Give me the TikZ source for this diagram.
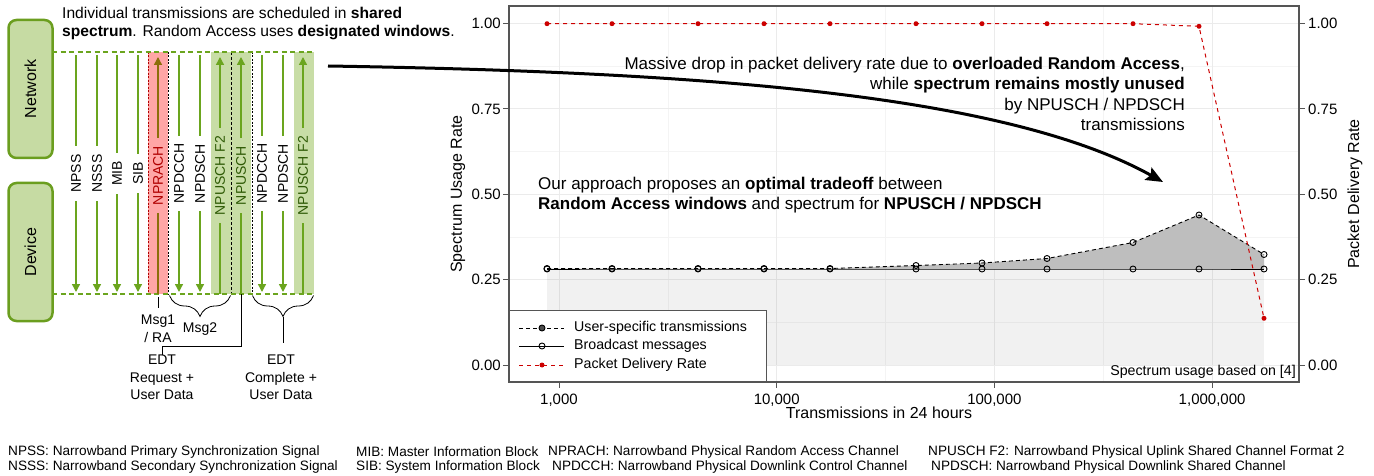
\documentclass[tikz,border=0pt]{standalone}
\usepackage{fontspec}
\setmainfont{Liberation Sans}
\usetikzlibrary{arrows.meta,decorations.pathreplacing,calc}
\newcommand{\fsz}[2]{\fontsize{#1pt}{#2pt}\selectfont}
\definecolor{gline}{HTML}{6BA51E}
\definecolor{boxfill}{HTML}{C6DBA3}
\definecolor{boxdraw}{HTML}{6B9E1F}
\definecolor{bandgreen}{HTML}{C8DDA6}
\definecolor{bandred}{HTML}{FFA6A6}
\definecolor{redtext}{HTML}{B00000}
\definecolor{dkgreen}{HTML}{2E5A05}
\definecolor{olivearr}{HTML}{8C6E0A}
\definecolor{plotred}{HTML}{CC0000}
\definecolor{majgrid}{HTML}{EBEBEB}
\definecolor{mingrid}{HTML}{F4F4F4}
\definecolor{areadark}{HTML}{BEBEBE}
\definecolor{panelframe}{HTML}{555555}
\tikzset{
  sidebox/.style={rotate=90, draw=boxdraw, fill=boxfill, line width=2.5pt, rounded corners=8pt,
    minimum width=138pt, minimum height=44pt, inner sep=0pt, font=\fsz{16}{19}},
  collab/.style={rotate=90, font=\fsz{14}{16}, inner xsep=8pt, inner ysep=1pt},
  garr/.style={draw=gline, line width=1.4pt, -{Triangle[length=8pt,width=8pt]}},
  gdash/.style={draw=gline, line width=1.5pt, dash pattern=on 5pt off 3.5pt},
  sep/.style={draw=black, line width=0.7pt, dash pattern=on 2pt off 1.5pt},
  note/.style={font=\fsz{14}{17.5}, align=center, inner sep=0pt},
  brc/.style={draw=black, line width=0.8pt, decorate, decoration={brace, mirror, amplitude=21pt}},
  majorgrid/.style={draw=majgrid, line width=1pt},
  minorgrid/.style={draw=mingrid, line width=0.6pt},
  ticklab/.style={font=\fsz{15}{18}, inner sep=0pt},
  opc/.style={circle, draw=black, line width=0.9pt, minimum size=6pt, inner sep=0pt},
  rdot/.style={circle, fill=plotred, minimum size=5pt, inner sep=0pt},
  legtxt/.style={font=\fsz{14.2}{17}, anchor=west, inner sep=0pt},
  udash/.style={draw=black, line width=0.9pt, dash pattern=on 4pt off 3pt},
  rdash/.style={draw=plotred, line width=1pt, dash pattern=on 4pt off 4pt},
  foot/.style={font=\fsz{13.6}{16}, anchor=west, inner sep=0pt},
}
\begin{document}
\begin{tikzpicture}[x=1pt,y=-1pt]
\useasboundingbox (0,0) rectangle (1374,476);
\fill[white] (0,0) rectangle (1374,476);

% ---------------- left diagram ----------------
\node[sidebox] (net) at (30.5,89) {Network};
\node[sidebox] (dev) at (30.5,252) {Device};

\node[anchor=west, align=left, inner sep=0pt, font=\fsz{15.6}{18}] (toptxt) at (62,24)
  {Individual transmissions are scheduled in \textbf{shared}\\\textbf{spectrum}. Random Access uses \textbf{designated windows}.};

% bands
\fill[bandred] (148,52) rectangle (168,294);
\fill[bandgreen] (211,52) rectangle (251,294);
\fill[bandgreen] (294,52) rectangle (314,294);

% separators
\draw[sep, draw=redtext] (148,52) -- (148,294);
\draw[sep] (168,52) -- (168,294);
\draw[sep, dash pattern=on 3pt off 2pt] (231,52) -- (231,294);
\draw[sep] (252,52) -- (252,294);

% network / device lines
\coordinate (ntop0) at (52,52); \coordinate (ntop1) at (314,52);
\coordinate (dbot0) at (52,294); \coordinate (dbot1) at (314,294);
\draw[gdash] (ntop0) -- (ntop1);
\draw[gdash] (dbot0) -- (dbot1);

% downlink arrows
\foreach \x/\lab/\nm in {76/NPSS/a1,97/NSSS/a2,117/MIB/a3,138/SIB/a4,179/NPDCCH/a6,200/NPDSCH/a7,262/NPDCCH/a10,283/NPDSCH/a11}{
  \draw[garr] (\x,55) -- node[collab, fill=white, name=\nm] {\lab} (\x,292);
}
% uplink arrows
\draw[garr, draw=olivearr] (158,294) -- node[collab, fill=bandred, text=redtext, name=a5] {NPRACH} (158,57);
\foreach \x/\lab/\nm in {220/NPUSCH F2/a8,241/NPUSCH/a9,303/NPUSCH F2/a12}{
  \draw[garr] (\x,294) -- node[collab, fill=bandgreen, text=dkgreen, name=\nm] {\lab} (\x,57);
}

% braces and notes
\coordinate (m1a) at (158,297); \coordinate (m1b) at (158,308);
\draw[line width=0.8pt] (m1a) -- (m1b);
\node[note] (msg1) at (158,329) {Msg1\\/ RA};
\draw[brc] (169.5,295.5) -- (230.5,295.5);
\node[note] (msg2) at (200,329) {Msg2};
\node[note, anchor=north] (edt1) at (162,355) {EDT\\Request +\\User Data};
\coordinate (e1a) at (241,294);
\draw[line width=0.8pt] (e1a) -- (241,346) -- (162,346) -- (edt1.north);
\draw[brc] (252.5,295.5) -- (313.5,295.5);
\coordinate (b2tip) at (283,317);
\node[note, anchor=north] (edt2) at (281,355) {EDT\\Complete +\\User Data};
\draw[line width=0.8pt] (b2tip) -- (283,343);

% ---------------- plot ----------------
\foreach \y in {66.3,151.7,237,322.3} \draw[minorgrid] (509,\y) -- (1299,\y);
\foreach \x in {667.9,885.6,1103.3} \draw[minorgrid] (\x,6) -- (\x,382);
\foreach \y in {23.7,109,194.3,279.7,365} \draw[majorgrid] (509,\y) -- (1299,\y);
\foreach \x in {559,776.7,994.4,1212.1} \draw[majorgrid] (\x,6) -- (\x,382);

% areas
\fill[black, opacity=0.055] (547,365) -- (547,269) -- (1264,269) -- (1264,365) -- cycle;
\fill[areadark] (547,269) -- (547,268.5) -- (612,268.5) -- (698,268.5) -- (764,268.5) -- (830,268.5)
  -- (916,265.5) -- (982,263) -- (1047,258.5) -- (1133,242.5) -- (1199,215) -- (1264,254.5) -- (1264,269) -- cycle;

% broadcast
\foreach \x [count=\i] in {547,612,698,764,830,916,982,1047,1133,1199,1264}
  \node[opc] (b\i) at (\x,269) {};
\draw[black, line width=0.9pt] (b1.center) -- (b2.center) -- (b3.center) -- (b4.center) -- (b5.center) -- (b6.center)
  -- (b7.center) -- (b8.center) -- (b9.center) -- (b10.center) -- (b11.center);
% user specific
\foreach \x/\y [count=\i] in {547/268.5,612/268.5,698/268.5,764/268.5,830/268.5,916/265.5,982/263,1047/258.5,1133/242.5,1199/215,1264/254.5}
  \node[opc] (u\i) at (\x,\y) {};
\draw[udash] (u1.center) -- (u2.center) -- (u3.center) -- (u4.center) -- (u5.center) -- (u6.center)
  -- (u7.center) -- (u8.center) -- (u9.center) -- (u10.center) -- (u11.center);
% packet delivery rate
\foreach \x/\y [count=\i] in {547/23.7,612/23.7,698/23.7,764/23.7,830/23.7,916/23.7,982/23.7,1047/23.7,1133/23.7,1199/26.3,1264/318.3}
  \node[rdot] (r\i) at (\x,\y) {};
\draw[rdash] (r1.center) -- (r2.center) -- (r3.center) -- (r4.center) -- (r5.center) -- (r6.center)
  -- (r7.center) -- (r8.center) -- (r9.center) -- (r10.center) -- (r11.center);

% annotations
\node[anchor=north east, align=right, inner sep=0pt, font=\fsz{17}{20.3}] (ann1) at (1185,57)
  {Massive drop in packet delivery rate due to \textbf{overloaded Random Access},\\
   while \textbf{spectrum remains mostly unused}\\ by NPUSCH / NPDSCH\\ transmissions};
\node[anchor=north west, align=left, inner sep=0pt, font=\fsz{17}{20.3}] (ann2) at (538,177)
  {Our approach proposes an \textbf{optimal tradeoff} between\\
   \textbf{Random Access windows} and spectrum for \textbf{NPUSCH / NPDSCH}};

% legend
\node[draw=panelframe, fill=white, line width=1pt, anchor=north west, minimum width=257pt, minimum height=72pt, inner sep=0pt] (leg) at (509,310) {};
\draw[udash] (519,328) -- (564,328); \node[opc, fill=black!70] (lk1) at (542,328) {};
\node[legtxt] (lt1) at (574,328) {User-specific transmissions};
\draw[black, line width=0.9pt] (519,346) -- (564,346); \node[opc] (lk2) at (542,346) {};
\node[legtxt] (lt2) at (574,346) {Broadcast messages};
\draw[rdash] (519,365) -- (564,365); \node[rdot] (lk3) at (542,365) {};
\node[legtxt] (lt3) at (574,365) {Packet Delivery Rate};

\node[anchor=east, inner sep=0pt, font=\fsz{14.2}{17}] (src) at (1296,372) {Spectrum usage based on [4]};

% frame and axes
\draw[panelframe, line width=1.2pt] (509,6) rectangle (1299,382);
\foreach \y/\t [count=\i] in {23.7/1.00,109/0.75,194.3/0.50,279.7/0.25,365/0.00}{
  \draw[panelframe, line width=1pt] (503,\y) -- (509,\y);
  \node[ticklab, anchor=east] (yl\i) at (501,\y) {\t};
  \draw[panelframe, line width=1pt] (1299,\y) -- (1305,\y);
  \node[ticklab, anchor=west] (yr\i) at (1308,\y) {\t};
}
\foreach \x/\t [count=\i] in {559/{1,000},776.7/{10,000},994.4/{100,000},1212.1/{1,000,000}}{
  \draw[panelframe, line width=1pt] (\x,382) -- (\x,388);
  \node[ticklab] (xl\i) at (\x,400) {\t};
}
\node[font=\fsz{16}{19}, inner sep=0pt] (xt) at (879,413) {Transmissions in 24 hours};
\node[font=\fsz{16}{19}, inner sep=0pt, rotate=90] (ylt) at (458,194) {Spectrum Usage Rate};
\node[font=\fsz{16}{19}, inner sep=0pt, rotate=90] (yrt) at (1355,194) {Packet Delivery Rate};

% big curved arrow
\coordinate (arrS) at (328,66);
\coordinate (arrE) at (1163,182);
\draw[line width=3pt, -{Stealth[length=17pt,width=14pt,inset=3pt]}] (arrS) .. controls (700,72) and (1005,94) .. (arrE);

% footnotes
\node[foot] (f1) at (8,452) {NPSS: Narrowband Primary Synchronization Signal};
\node[foot] (f2) at (8,467) {NSSS: Narrowband Secondary Synchronization Signal};
\node[foot] (f3) at (356,452) {MIB: Master Information Block};
\node[foot] (f4) at (356,467) {SIB: System Information Block};
\node[foot] (f5) at (548,452) {NPRACH: Narrowband Physical Random Access Channel};
\node[foot] (f6) at (552,467) {NPDCCH: Narrowband Physical Downlink Control Channel};
\node[foot] (f7) at (928,452) {NPUSCH F2: Narrowband Physical Uplink Shared Channel Format 2};
\node[foot] (f8) at (931,467) {NPDSCH: Narrowband Physical Downlink Shared Channel};
\end{tikzpicture}
\end{document}
